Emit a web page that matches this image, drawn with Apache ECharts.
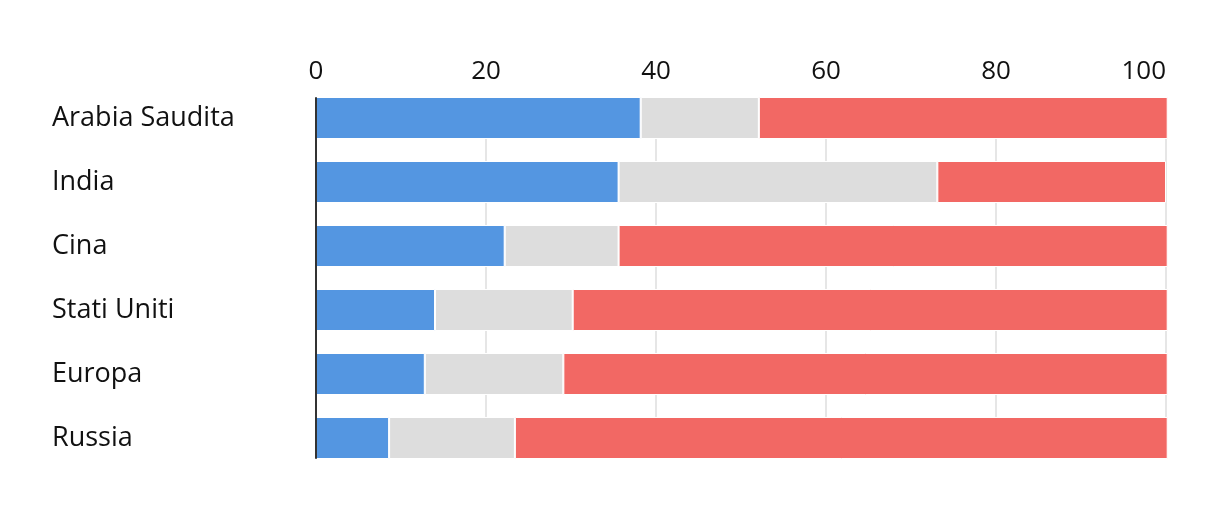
<!DOCTYPE html>
<html>
<head>
<meta charset="utf-8">
<script src="https://cdn.jsdelivr.net/npm/echarts@6/dist/echarts.min.js"></script>
<style>
html,body{margin:0;padding:0;background:#fff;}
#c{width:1220px;height:508px;}
</style>
</head>
<body>
<div id="c"></div>
<script>
var categories = ['Arabia Saudita', 'India', 'Cina', 'Stati Uniti', 'Europa', 'Russia'];
var blueValues = [38.2, 35.6, 22.2, 14.0, 12.8, 8.6];
var grayValues = [13.9, 37.5, 13.4, 16.2, 16.3, 14.8];
var redValues = [48.1, 26.9, 64.6, 70.0, 71.1, 76.8];
var xTicks = [0, 20, 40, 60, 80, 100];

var FONT = 'Open Sans';
var chart = echarts.init(document.getElementById('c'), null, {renderer: 'canvas'});
function seg(name, data, color) {
  return {
    name: name, type: 'bar', stack: 'total', data: data,
    xAxisIndex: 0, yAxisIndex: 0, barWidth: 42, clip: false,
    itemStyle: {color: color, borderColor: '#ffffff', borderWidth: 1},
    emphasis: {disabled: true}
  };
}
chart.setOption({
  animation: false,
  grid: [
    {left: 316, right: 54, top: 86, height: 384, containLabel: false},
    {left: 316, right: 54, top: 98, height: 360, containLabel: false}
  ],
  xAxis: [
    {gridIndex: 0, type: 'value', min: 0, max: 100, show: false},
    {gridIndex: 1, type: 'value', min: 0, max: 100, interval: 20, position: 'top',
     axisLine: {show: false}, axisTick: {show: false},
     axisLabel: {fontFamily: FONT, fontSize: 26, color: '#111', margin: 26, verticalAlign: 'middle',
       alignMaxLabel: 'right',
       formatter: function (v) { return xTicks.indexOf(v) >= 0 ? String(v) : ''; }},
     splitLine: {show: true, lineStyle: {color: '#e6e6e6', width: 2}}}
  ],
  yAxis: [
    {gridIndex: 0, type: 'category', data: categories, inverse: true,
     axisLine: {show: false}, axisTick: {show: false}, splitLine: {show: false},
     axisLabel: {fontFamily: FONT, fontSize: 27, color: '#111', align: 'left', margin: 264,
       padding: [4, 0, 0, 0]}},
    {gridIndex: 1, type: 'value', min: 0, max: 1, z: 10,
     axisLine: {show: true, lineStyle: {color: '#333333', width: 2}},
     axisTick: {show: false}, axisLabel: {show: false}, splitLine: {show: false}}
  ],
  series: [
    seg('blue', blueValues, '#5496e1'),
    seg('gray', grayValues, '#dddddd'),
    seg('red', redValues, '#f26864')
  ]
});
</script>
</body>
</html>
